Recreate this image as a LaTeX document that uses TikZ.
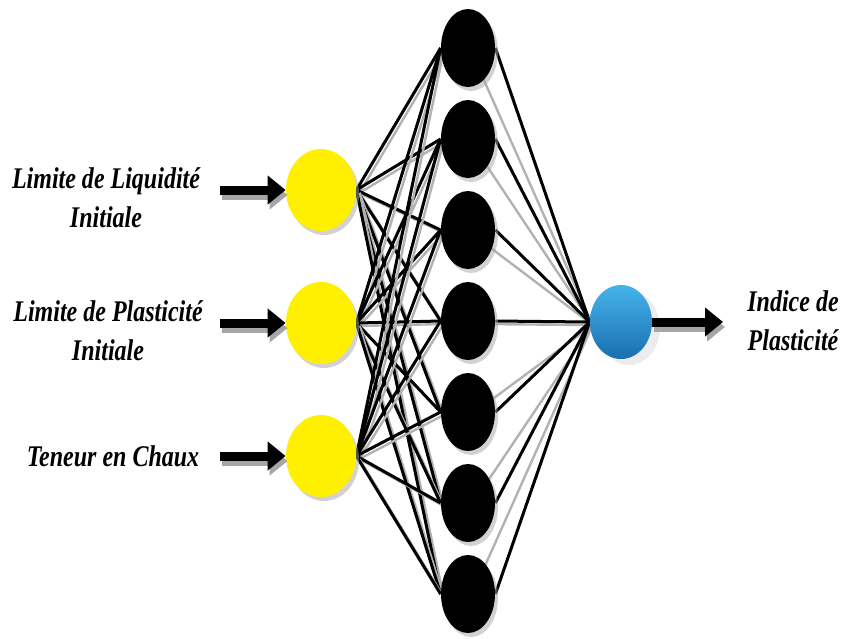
\documentclass[tikz,border=0pt]{standalone}
\usepackage{fontspec}
\setmainfont{Liberation Serif}[FakeStretch=0.8]
\usetikzlibrary{shapes.geometric,arrows.meta,shadows,backgrounds}
\begin{document}
\begin{tikzpicture}[x=0.5pt,y=-0.5pt,
  every node/.style={inner sep=0pt},
  label text/.style={font=\fontsize{15}{19.5}\selectfont\bfseries\itshape, align=center},
  input/.style={ellipse, fill={rgb,255:red,255;green,240;blue,0}, minimum width=35pt, minimum height=41pt,
    drop shadow={shadow xshift=1.5pt, shadow yshift=-2pt, fill=black!35}},
  hidden/.style={ellipse, fill=black, minimum width=27pt, minimum height=39pt,
    drop shadow={shadow xshift=1.5pt, shadow yshift=-2pt, fill=black!35}},
  output/.style={ellipse, top color={rgb,255:red,70;green,180;blue,235}, bottom color={rgb,255:red,25;green,110;blue,175},
    minimum width=31pt, minimum height=37pt,
    drop shadow={shadow xshift=4pt, shadow yshift=-3pt, fill=blue!15!black!15}},
  link/.style={line width=1.5pt},
  link shade/.style={line width=1.2pt, black!30, transform canvas={xshift=1.5pt, yshift=-1.5pt}},
  feed/.style={line width=4.5pt, -{Triangle[length=9pt,width=14pt]}},
  feed shade/.style={feed, black!35, transform canvas={xshift=1pt, yshift=-2.5pt}}]
  \useasboundingbox (0,0) rectangle (849,638);
  % layers
  \foreach \i/\y in {1/190,2/323,3/456}
    \node[input] (i\i) at (321,\y) {};
  \foreach \j/\y in {1/48,2/139,3/230,4/321,5/412,6/503,7/594}
    \node[hidden] (h\j) at (468,\y) {};
  \node[output] (o) at (621,322) {};
  % connections
  \begin{scope}[on background layer]
    \foreach \i in {1,2,3}
      \foreach \j in {1,...,7} {
        \draw[link shade] (i\i.east) -- (h\j.west);
        \draw[link] (i\i.east) -- (h\j.west);
      }
    \foreach \j in {1,...,7} {
      \draw[link shade] (h\j.center) -- (o.west);
      \draw[link] (h\j.east) -- (o.west);
    }
  \end{scope}
  % inputs
  \foreach \i/\y in {1/190,2/323,3/456} {
    \coordinate (s\i) at (220,\y);
    \draw[feed shade] (s\i) -- (i\i.west);
    \draw[feed] (s\i) -- (i\i.west);
  }
  \node[label text] (l1) at (106,198) {Limite de Liquidité\\Initiale};
  \node[label text] (l2) at (108,331) {Limite de Plasticité\\Initiale};
  \node[label text] (l3) at (113,456) {Teneur en Chaux};
  % output
  \coordinate (t) at (723,322);
  \draw[feed shade] (o.east) -- (t);
  \draw[feed] (o.east) -- (t);
  \node[label text] (l4) at (793,321) {Indice de\\Plasticité};
\end{tikzpicture}
\end{document}
